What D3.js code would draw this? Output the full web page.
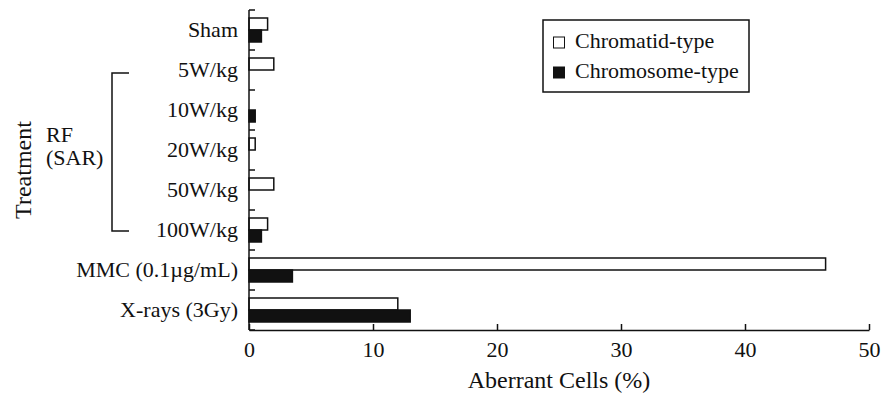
<!DOCTYPE html>
<html>
<head>
<meta charset="utf-8">
<script src="https://cdn.jsdelivr.net/npm/d3@7"></script>
<style>
  html, body { margin: 0; padding: 0; background: #fff; }
  svg { display: block; }
  text { font-family: "Liberation Serif", "DejaVu Serif", serif; fill: #111; }
</style>
</head>
<body>
<svg id="chart" width="885" height="395"></svg>
<script>
const categories = ["Sham", "5W/kg", "10W/kg", "20W/kg", "50W/kg", "100W/kg", "MMC (0.1\u00b5g/mL)", "X-rays (3Gy)"];
const seriesNames = ["Chromatid-type", "Chromosome-type"];
const chromatid = [1.5, 2.0, 0, 0.5, 2.0, 1.5, 46.5, 12.0];
const chromosome = [1.0, 0, 0.5, 0, 0, 1.0, 3.5, 13.0];
const xTicks = [0, 10, 20, 30, 40, 50];
const xTitle = "Aberrant Cells (%)";
const yTitle = "Treatment";
const groupLabel = ["RF", "(SAR)"];
const groupRange = ["5W/kg", "100W/kg"];

const svg = d3.select("#chart");
const margin = { left: 249, right: 16, top: 10, bottom: 65 };
const W = 885, H = 395;
const ink = "#111";

const x = d3.scaleLinear().domain([0, 50]).range([margin.left, W - margin.right]);
const y = d3.scaleBand().domain(categories).range([margin.top, H - margin.bottom]).paddingInner(0).paddingOuter(0);
const inner = d3.scaleBand().domain(seriesNames).range([0, y.bandwidth()]).paddingOuter(0.667).paddingInner(0);

const rows = [];
categories.forEach((c, i) => {
  rows.push({ cat: c, s: seriesNames[0], v: chromatid[i] });
  rows.push({ cat: c, s: seriesNames[1], v: chromosome[i] });
});

// bars
svg.append("g").selectAll("rect")
  .data(rows.filter(d => d.v > 0))
  .join("rect")
  .attr("x", x(0))
  .attr("y", d => y(d.cat) + inner(d.s))
  .attr("width", d => x(d.v) - x(0))
  .attr("height", inner.bandwidth())
  .attr("fill", d => d.s === seriesNames[0] ? "#fff" : ink)
  .attr("stroke", ink)
  .attr("stroke-width", 1.5);

// y axis line and boundary ticks
const yAxisG = svg.append("g");
yAxisG.append("line")
  .attr("x1", x(0)).attr("x2", x(0))
  .attr("y1", y.range()[0]).attr("y2", y.range()[1])
  .attr("stroke", ink).attr("stroke-width", 1.5);
const bounds = categories.map(c => y(c)).concat([y.range()[1]]);
yAxisG.selectAll("line.tk").data(bounds).join("line")
  .attr("class", "tk")
  .attr("x1", x(0)).attr("x2", x(0) + 6)
  .attr("y1", d => d).attr("y2", d => d)
  .attr("stroke", ink).attr("stroke-width", 1.5);

// y labels
const yLab = svg.append("g")
  .attr("transform", `translate(${x(0)},0)`)
  .call(d3.axisLeft(y).tickSize(0).tickPadding(11));
yLab.select(".domain").remove();
yLab.selectAll("text").attr("font-size", 22).attr("fill", ink)
  .style("font-family", "'Liberation Serif', serif");

// x axis
const xAx = svg.append("g")
  .attr("transform", `translate(0,${y.range()[1]})`)
  .call(d3.axisBottom(x).tickValues(xTicks).tickSizeInner(-6).tickSizeOuter(0).tickPadding(11));
xAx.select(".domain").attr("stroke", ink).attr("stroke-width", 1.5);
xAx.selectAll("line").attr("stroke", ink).attr("stroke-width", 1.5);
xAx.selectAll("text").attr("font-size", 22).attr("fill", ink)
  .style("font-family", "'Liberation Serif', serif");

// axis titles
svg.append("text")
  .attr("x", (x.range()[0] + x.range()[1]) / 2)
  .attr("y", 388)
  .attr("text-anchor", "middle")
  .attr("font-size", 24)
  .text(xTitle);

svg.append("text")
  .attr("transform", `translate(31,${(y.range()[0] + y.range()[1]) / 2}) rotate(-90)`)
  .attr("text-anchor", "middle")
  .attr("font-size", 24)
  .text(yTitle);

// RF bracket
const bTop = y(groupRange[0]) + y.bandwidth() / 2 + 3;
const bBot = y(groupRange[1]) + y.bandwidth() / 2 + 1;
svg.append("path")
  .attr("d", `M129,${bTop} H112 V${bBot} H129`)
  .attr("fill", "none").attr("stroke", ink).attr("stroke-width", 1.5);
svg.append("text").attr("x", 46).attr("y", 142).attr("font-size", 22).text(groupLabel[0]);
svg.append("text").attr("x", 46).attr("y", 165).attr("font-size", 22).text(groupLabel[1]);

// legend
const lg = svg.append("g");
lg.append("rect").attr("x", 543).attr("y", 20).attr("width", 206).attr("height", 72)
  .attr("fill", "#fff").attr("stroke", ink).attr("stroke-width", 1.5);
seriesNames.forEach((s, i) => {
  const yy = 48 + i * 30;
  lg.append("rect").attr("x", 553.5).attr("y", yy - 11).attr("width", 11).attr("height", 11)
    .attr("fill", i === 0 ? "#fff" : ink).attr("stroke", ink).attr("stroke-width", 1);
  lg.append("text").attr("x", 575).attr("y", yy).attr("font-size", 22).text(s);
});
</script>
</body>
</html>
